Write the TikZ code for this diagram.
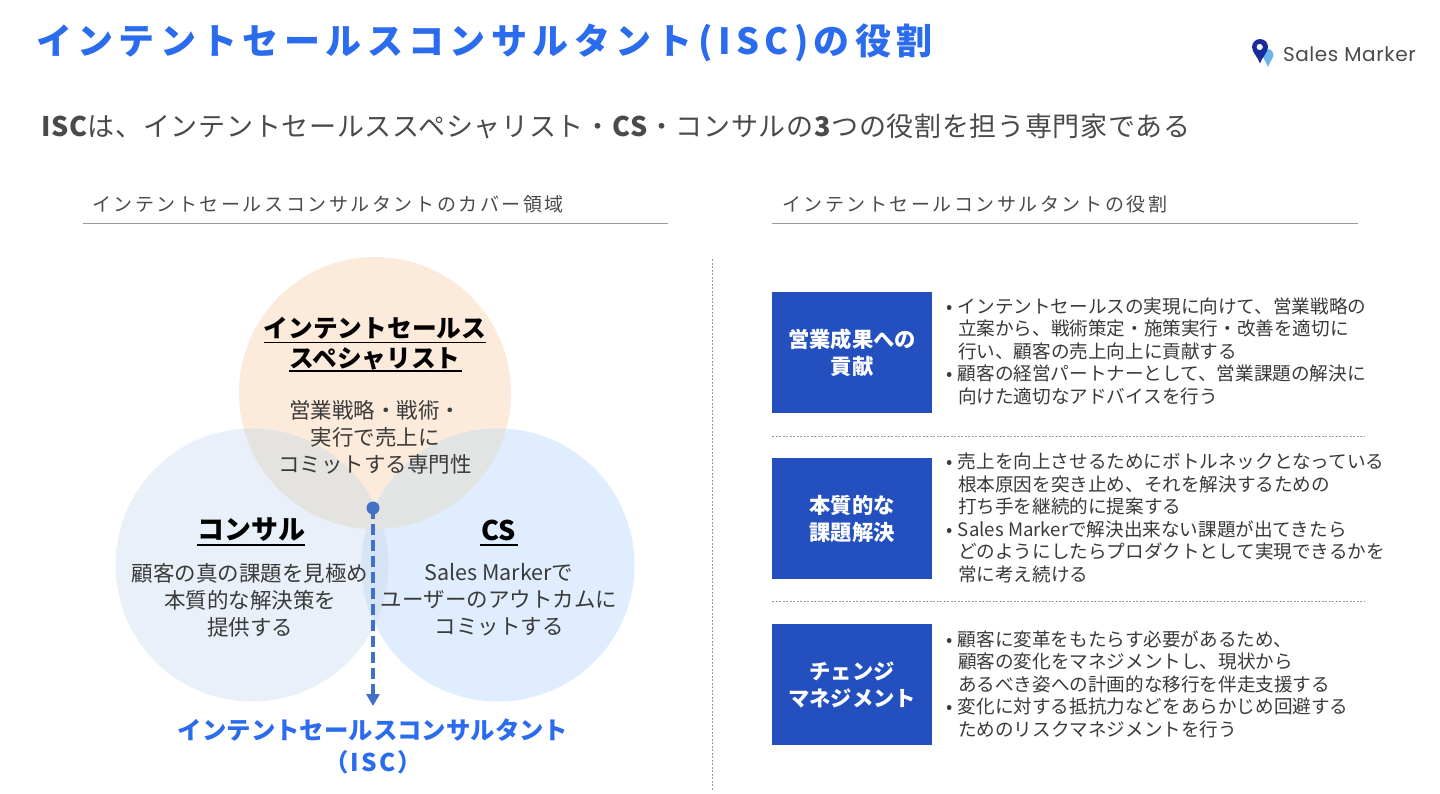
\documentclass[tikz,border=0pt]{standalone}
\usepackage{fontspec}
\setmainfont{Noto Sans CJK JP}
\newfontfamily\logofont{Poppins}
\usetikzlibrary{arrows.meta}
\definecolor{titleblue}{HTML}{2B6CEE}
\definecolor{bodygray}{HTML}{3A3A3A}
\definecolor{subgray}{HTML}{4A4A4A}
\definecolor{boxblue}{HTML}{2350BE}
\definecolor{arrowblue}{HTML}{4170C4}
\definecolor{rulegray}{HTML}{9A9A9A}
\definecolor{cOrange}{HTML}{FCEADB}
\definecolor{cLeft}{HTML}{E9F0F9}
\definecolor{cRight}{HTML}{DFEDFE}
\definecolor{cLens}{HTML}{D6E4F5}
\definecolor{cOvL}{HTML}{E4E3E0}
\definecolor{cOvR}{HTML}{E1E4E3}
\definecolor{pinlight}{HTML}{6DB3EC}
\definecolor{pindark}{HTML}{1A2C9C}
\newcommand{\fs}[2]{\fontsize{#1}{#2}\selectfont}
\newcommand{\ls}[1]{\addfontfeature{LetterSpace=#1}}
\newcommand{\bul}{\llap{•\hspace{5pt}}}
\tikzset{
  txt/.style={inner sep=0pt,outer sep=0pt,text=bodygray},
  head/.style={txt,anchor=west,font=\fs{19}{24}\ls{13.5},text=subgray},
  bullets/.style={txt,anchor=west,align=left,font=\fs{18.6}{22.5}},
  circtext/.style={txt,align=center,font=\fs{21.5}{27}},
  circhead/.style={txt,align=center,font=\fs{24.7}{30}\bfseries,text=black},
  bluebox/.style={fill=boxblue,draw=none,minimum width=160pt,minimum height=121pt,inner sep=0pt,align=center,text=white,font=\fs{21.3}{27}\bfseries},
  hrule/.style={draw=rulegray,line width=.8pt},
  dotrule/.style={draw=rulegray,line width=.8pt,dash pattern=on 2pt off 1.5pt},
  ul/.style={draw=black,line width=1.4pt},
}
\begin{document}
\begin{tikzpicture}[x=1pt,y=-1pt]
\useasboundingbox (0,0) rectangle (1440,793);
\fill[white] (0,0) rectangle (1440,793);
% title
\node[txt,anchor=west,text=titleblue,font=\fs{36}{40}\bfseries\ls{15}] (title) at (36,43) {インテントセールスコンサルタント(ISC)の役割};
% logo
\fill[pinlight] (1268,67) .. controls (1266,61) and (1262.5,58.5) .. (1262.5,54.5) .. controls (1262.5,51.5) and (1265,49) .. (1268,49) .. controls (1271,49) and (1273.5,51.5) .. (1273.5,54.5) .. controls (1273.5,58.5) and (1270,61) .. (1268,67) -- cycle;
\fill[pindark,even odd rule] (1260,63.5) .. controls (1258,57) and (1252,52.5) .. (1252,47) .. controls (1252,42.6) and (1255.6,39) .. (1260,39) .. controls (1264.4,39) and (1268,42.6) .. (1268,47) .. controls (1268,52.5) and (1262,57) .. (1260,63.5) -- cycle (1259.7,47) circle (3.2);
\node[txt,anchor=west,font=\logofont\fs{20}{24}\addfontfeature{LetterSpace=3},text=subgray] (logo) at (1283,54) {Sales Marker};
% subtitle
\node[txt,anchor=west,text=subgray,font=\fs{27}{32}\ls{2.6}] (sub) at (41,126) {\textbf{ISC}は、インテントセールススペシャリスト・\textbf{CS}・コンサルの\textbf{3}つの役割を担う専門家である};
% section heads
\node[head] (hl) at (92,204) {インテントセールスコンサルタントのカバー領域};
\node[head] (hr) at (782,204) {インテントセールコンサルタントの役割};
\coordinate (hl1) at (83,223); \coordinate (hl2) at (668,223);
\coordinate (hr1) at (772,223); \coordinate (hr2) at (1358,223);
\draw[hrule] (hl1) -- (hl2);
\draw[hrule] (hr1) -- (hr2);
% divider
\coordinate (v1) at (712.5,259); \coordinate (v2) at (712.5,791);
\draw[dotrule] (v1) -- (v2);
\coordinate (d1a) at (772,436); \coordinate (d1b) at (1365,436);
\coordinate (d2a) at (772,601); \coordinate (d2b) at (1365,601);
\draw[dotrule] (d1a) -- (d1b);
\draw[dotrule] (d2a) -- (d2b);
% circles
\fill[cOrange] (375,393) circle (136);
\fill[cLeft] (252,565) circle (136.5);
\fill[cRight] (498,565) circle (136.5);
\begin{scope}
\clip (252,565) circle (136.5);
\fill[cLens] (498,565) circle (136.5);
\end{scope}
\begin{scope}
\clip (375,393) circle (136);
\fill[cOvL] (252,565) circle (136.5);
\end{scope}
\begin{scope}
\clip (375,393) circle (136);
\fill[cOvR] (498,565) circle (136.5);
\end{scope}
% circle text
\node[circhead] (t1) at (375,344) {インテントセールス\\スペシャリスト};
\node[circtext] (t1b) at (375,437.5) {営業戦略・戦術・\\実行で売上に\\コミットする専門性};
\node[txt,font=\fs{27}{32}\bfseries,text=black] (t2) at (251,530) {コンサル};
\node[circtext] (t2b) at (250,600) {顧客の真の課題を見極め\\本質的な解決策を\\提供する};
\node[txt,font=\fs{27}{32}\bfseries,text=black] (t3) at (499,530) {CS};
\node[circtext] (t3b) at (499,600) {Sales Markerで\\ユーザーのアウトカムに\\コミットする};
\coordinate (u1a) at (264,342.5); \coordinate (u1b) at (486,342.5);
\coordinate (u2a) at (289,371); \coordinate (u2b) at (462,371);
\coordinate (u3a) at (197,545); \coordinate (u3b) at (305,545);
\coordinate (u4a) at (480,545); \coordinate (u4b) at (518,545);
\draw[ul] (u1a) -- (u1b);
\draw[ul] (u2a) -- (u2b);
\draw[ul] (u3a) -- (u3b);
\draw[ul] (u4a) -- (u4b);
% arrow
\node[circle,fill=arrowblue,minimum size=13pt,inner sep=0pt] (dot) at (373,508) {};
\coordinate (aend) at (373,706);
\draw[arrowblue,line width=3.6pt,dash pattern=on 10.5pt off 5.5pt,-{Triangle[length=12pt,width=13pt]}] (dot.center) -- (aend);
\node[txt,align=center,text=titleblue,font=\fs{24.4}{32}\bfseries] (isc) at (373,746) {インテントセールスコンサルタント\\{\ls{9}（ISC）}};
% boxes
\node[bluebox] (b1) at (852,352.5) {営業成果への\\貢献};
\node[bluebox] (b2) at (852,518.5) {本質的な\\課題解決};
\node[bluebox] (b3) at (852,684.5) {チェンジ\\マネジメント};
\node[bullets] (r1) at (958,351) {\bul インテントセールスの実現に向けて、営業戦略の\\立案から、戦術策定・施策実行・改善を適切に\\行い、顧客の売上向上に貢献する\\\bul 顧客の経営パートナーとして、営業課題の解決に\\向けた適切なアドバイスを行う};
\node[bullets] (r2) at (958,518) {\bul 売上を向上させるためにボトルネックとなっている\\根本原因を突き止め、それを解決するための\\打ち手を継続的に提案する\\\bul Sales Markerで解決出来ない課題が出てきたら\\どのようにしたらプロダクトとして実現できるかを\\常に考え続ける};
\node[bullets] (r3) at (958,684) {\bul 顧客に変革をもたらす必要があるため、\\顧客の変化をマネジメントし、現状から\\あるべき姿への計画的な移行を伴走支援する\\\bul 変化に対する抵抗力などをあらかじめ回避する\\ためのリスクマネジメントを行う};
\end{tikzpicture}
\end{document}
